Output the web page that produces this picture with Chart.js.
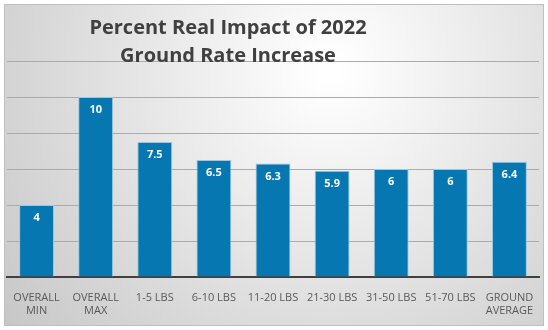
<!DOCTYPE html>
<html>
<head>
    <meta charset="utf-8">
    <title>Percent Real Impact of 2022 Ground Rate Increase</title>
    <script src="https://cdn.jsdelivr.net/npm/chart.js@4.4.6/dist/chart.umd.min.js"></script>
    <style>
        html, body { margin: 0; padding: 0; background: #fff; }
        #wrap { width: 548px; height: 330px; }
    </style>
</head>
<body>
    <div id="wrap"><canvas id="myChart"></canvas></div>
    <script>
        const titleLines = ["Percent Real Impact of 2022", "Ground Rate Increase"]
        const categories = [
            ["OVERALL", "MIN"], ["OVERALL", "MAX"], "1-5 LBS", "6-10 LBS", "11-20 LBS",
            "21-30 LBS", "31-50 LBS", "51-70 LBS", ["GROUND", "AVERAGE"]
        ]
        const values = [4, 10, 7.5, 6.5, 6.3, 5.9, 6, 6, 6.4]
        const valueLabels = ["4", "10", "7.5", "6.5", "6.3", "5.9", "6", "6", "6.4"]

        const backdrop = {
            id: "backdrop",
            beforeDraw(chart) {
                const ctx = chart.ctx
                const w = chart.width, h = chart.height
                ctx.save()
                ctx.fillStyle = "#ffffff"
                ctx.fillRect(0, 0, w, h)
                const g = ctx.createRadialGradient(330, 70, 10, 330, 70, 420)
                g.addColorStop(0, "#ffffff")
                g.addColorStop(1, "#c6c6c6")
                ctx.fillStyle = g
                ctx.fillRect(5, 5, w - 10, h - 10)
                ctx.strokeStyle = "#bfbfbf"
                ctx.lineWidth = 1
                ctx.strokeRect(4.5, 4.5, w - 9, h - 9)
                ctx.restore()
            },
            afterDraw(chart) {
                const ctx = chart.ctx
                ctx.save()
                ctx.fillStyle = "#404040"
                ctx.font = "bold 20px 'Open Sans'"
                ctx.textAlign = "center"
                ctx.textBaseline = "middle"
                ctx.fillText(titleLines[0], 228, 28)
                ctx.fillText(titleLines[1], 228, 56)
                const meta = chart.getDatasetMeta(0)
                ctx.fillStyle = "#ffffff"
                ctx.font = "bold 11px 'Open Sans'"
                meta.data.forEach((bar, i) => {
                    ctx.fillText(valueLabels[i], bar.x, bar.y + 13)
                })
                ctx.restore()
            }
        }

        new Chart(document.getElementById("myChart"), {
            type: "bar",
            data: {
                labels: categories,
                datasets: [{
                    data: values,
                    backgroundColor: "#0777B2",
                    borderColor: "#9cc7e0",
                    borderWidth: 1,
                    barPercentage: 0.59,
                    categoryPercentage: 1,
                }],
            },
            options: {
                responsive: true,
                maintainAspectRatio: false,
                animation: false,
                layout: { padding: { left: 7, right: 9, top: 61, bottom: 0 } },
                plugins: {
                    legend: { display: false },
                    title: { display: false },
                    tooltip: { enabled: false },
                },
                scales: {
                    x: {
                        grid: { display: false },
                        border: { color: "#404040", width: 2 },
                        ticks: {
                            color: "#595959",
                            font: { family: "'Open Sans'", size: 11 },
                            maxRotation: 0,
                            autoSkip: false,
                            padding: 6,
                        },
                        afterFit(scale) { scale.height = 53 },
                    },
                    y: {
                        min: 0,
                        max: 12,
                        ticks: { display: false, stepSize: 2 },
                        grid: { color: "#ababab", drawTicks: false },
                        border: { display: false },
                        afterFit(scale) { scale.width = 0 },
                    },
                },
            },
            plugins: [backdrop],
        })
    </script>
</body>
</html>
